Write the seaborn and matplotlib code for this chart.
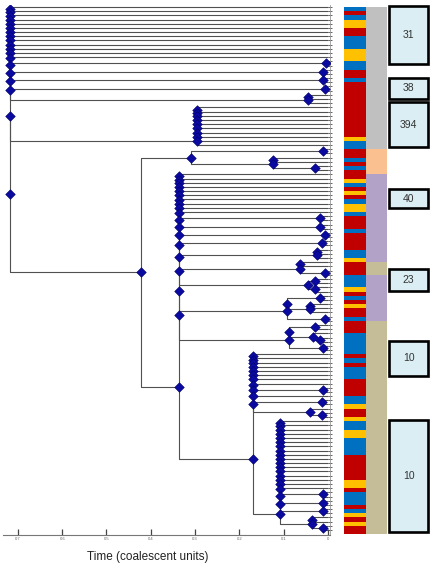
import numpy as np
import seaborn as sns
import matplotlib.pyplot as plt
from matplotlib.colors import ListedColormap
from matplotlib.patches import Rectangle

# tree: a clade is (node time, members); the members are
# joined one after the other at that time (ladder), an int member = that many tips
clade_38 = (0.045, [3])
clade_394 = (0.296, [10])
clade_peach = (0.309, [(0.012, [2]), (0.125, [2, (0.030, [2])])])
clade_265 = (0.063, [2, (0.007, [2])])
clade_285 = (0.045, [(0.030, [2]), (0.030, [2])])
clade_309 = (0.093, [(0.018, [2]), (0.040, [3]), (0.007, [2])])
clade_333 = (0.088, [(0.030, [2]), (0.035, [1, (0.018, [2])]), (0.012, [2])])
clade_10a = (0.170, [8, (0.012, [2]), 1, (0.014, [2]), (0.040, [1, (0.014, [2])])])
clade_10b = (0.108, [17, (0.012, [2]), (0.012, [2]), (0.012, [2]), (0.036, [2, (0.012, [2])])])
clade_low = (0.170, [clade_10a, clade_10b])
clade_big = (0.336, [10, (0.018, [2]), (0.018, [2]), (0.007, [2]), (0.014, [2]),
                     (0.025, [3]), clade_265, clade_285, clade_309, clade_333, clade_low])
clade_b = (0.422, [clade_peach, clade_big])
tree = (0.717, [13, (0.005, [2]), (0.012, [2]), (0.012, [2]), (0.007, [2]),
                clade_38, clade_394, clade_b])

# colour of each tip (R red, B blue, Y yellow), top to bottom
tip_colours = ("BRBYYRRBBB" "YYYBBRRBRR" "RRRRRRRRRR" "RYBBRRBRBR" "RYBRYRBYYB"
               "RRRBRRRRBB" "YRRRBBBYRB" "RYRRBRRRBB" "BBBRBRBBBR" "RRRBBYRRYB"
               "BYYBBBBRRR" "RRRYYRBBBR" "BYRYRR")

group_names = ["grey", "peach", "purple", "tan", "purple", "tan"]
group_tips = [34, 6, 21, 3, 11, 51]

box_labels = ["31", "38", "394", "40", "23", "10", "10"]
box_top = [-0.2, 17.05, 22.8, 43.6, 62.7, 79.9, 98.8]
box_bottom = [13.55, 21.9, 33.4, 47.95, 67.8, 88.1, 125.4]

time_ticks = [0.7, 0.6, 0.5, 0.4, 0.3, 0.2, 0.1, 0.0]
time_labels = ["0.7", "0.6", "0.5", "0.4", "0.3", "0.2", "0.1", "0"]

# -----------------------------
# layout of the tree
# -----------------------------
seg_x, seg_y = [], []
node_t, node_y = [], []
n_tips = [0]


def place(clade):
    if isinstance(clade, int):
        roots = []
        for _ in range(clade):
            roots.append((0.0, n_tips[0]))
            n_tips[0] += 1
        return roots
    t, members = clade
    parts = []
    for m in members:
        parts += place(m)
    cx, cy = parts[0]
    for nx, ny in parts[1:]:
        seg_x.extend([cx, t, t, nx, np.nan])
        seg_y.extend([cy, cy, ny, ny, np.nan])
        cy = (cy + ny) / 2
        cx = t
        node_t.append(t)
        node_y.append(cy)
    return [(t, cy)]


place(tree)
n = n_tips[0]

sns.set_style("white")
plt.rcParams["font.family"] = ["Liberation Sans", "DejaVu Sans"]

W, H = 434, 571
fig = plt.figure(figsize=(W / 100, H / 100), dpi=100)


def px_axes(x0, x1, y0, y1):
    return fig.add_axes([x0 / W, 1 - y1 / H, (x1 - x0) / W, (y1 - y0) / H])


ylim = (126.19, -0.478)

# -----------------------------
# tree panel
# -----------------------------
ax = px_axes(3, 330, 5, 535)
ax.plot(seg_x, seg_y, color="#505050", lw=0.8, solid_capstyle="butt")
sns.scatterplot(x=node_t, y=node_y, marker="D", s=24, color="#0a0aa0",
                edgecolor="#00006a", linewidth=0.4, ax=ax, zorder=3)
ax.set_xlim(0.7336, -0.0045)
ax.set_ylim(*ylim)

for s in ["top", "left"]:
    ax.spines[s].set_visible(False)
ax.spines["bottom"].set_color("#777777")
ax.spines["bottom"].set_linewidth(0.8)
ax.spines["right"].set_color("#9a9a9a")
ax.spines["right"].set_linewidth(0.6)

ax.set_xticks(time_ticks)
ax.set_xticklabels(time_labels)
ax.tick_params(axis="x", direction="in", length=4, width=0.9, colors="#444444",
               labelsize=3, labelcolor="#666666", pad=1.5, bottom=True)
ax.set_yticks(range(n))
ax.yaxis.tick_right()
ax.tick_params(axis="y", direction="inout", length=2.2, width=0.5, colors="#222222",
               labelright=False, labelleft=False, right=True, left=False)

ax.set_xlabel("Time (coalescent units)", fontsize=8.5, color="#222222")
ax.xaxis.set_label_coords(0.443, -0.030)

# -----------------------------
# colour strip + group column
# -----------------------------
colour_code = {"R": 0, "B": 1, "Y": 2}
group_code = {"grey": 3, "peach": 4, "purple": 5, "tan": 6}
group_col = []
for g, k in zip(group_names, group_tips):
    group_col += [group_code[g]] * k
mat = np.column_stack([[colour_code[c] for c in tip_colours], group_col])

cmap = ListedColormap(["#c00000", "#0070c0", "#ffc000",
                       "#c0c0c0", "#fac090", "#b3a2c7", "#c4bd97"])
axh = px_axes(344, 387, 5, 535)
sns.heatmap(mat, cmap=cmap, vmin=-0.5, vmax=6.5, cbar=False,
            xticklabels=False, yticklabels=False, ax=axh)
axh.set_ylim(*ylim)
axh.axis("off")

# -----------------------------
# labelled boxes
# -----------------------------
axb = px_axes(386, 432, 5, 535)
axb.set_xlim(0, 1)
axb.set_ylim(*ylim)
axb.axis("off")
for lab, top, bot in zip(box_labels, box_top, box_bottom):
    axb.add_patch(Rectangle((0.072, top), 0.834, bot - top, facecolor="#dbeef3",
                            edgecolor="black", lw=1.9))
    axb.text(0.49, (top + bot) / 2, lab, ha="center", va="center",
             fontsize=7.5, color="#333333")

fig.savefig("out.png", dpi=100)
